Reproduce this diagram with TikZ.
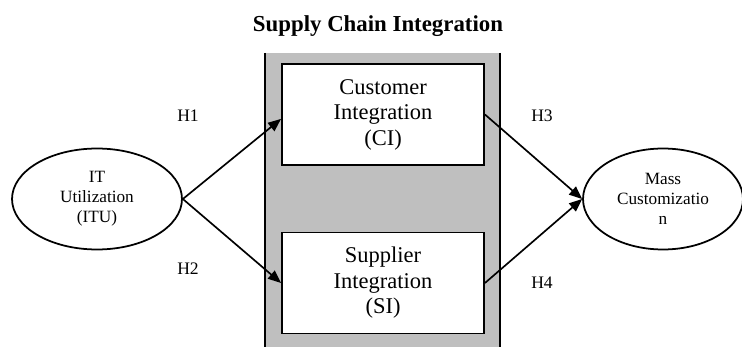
\documentclass[tikz,border=0pt]{standalone}
\usepackage{fontspec}
\setmainfont{Liberation Serif}
\usetikzlibrary{shapes.geometric,arrows.meta}
\begin{document}
\begin{tikzpicture}[x=0.02cm,y=-0.02cm,
    construct/.style ={ellipse,draw,line width=1pt,minimum height=2.02cm,align=center,font=\fontsize{9.8}{11.4}\selectfont},
    block/.style ={rectangle,draw,line width=1.1pt,fill=white,minimum width=4.04cm,minimum height=2.02cm,align=center,font=\fontsize{12.8}{14.5}\selectfont},
    hyp/.style ={font=\fontsize{10}{12}\selectfont},
    link/.style ={line width=0.95pt,-{Triangle[length=0.26cm,width=0.21cm]}}]
  \useasboundingbox (0,0) rectangle (742,347);
  % shaded panel behind the two integration boxes
  \fill[gray!50] (265,53) rectangle (500,347);
  \draw[line width=1.1pt] (265,53) -- (265,347) (500,53) -- (500,347);
  \node[anchor=base,font=\bfseries\fontsize{13}{15}\selectfont] (title) at (378,32) {Supply Chain Integration};
  \node[construct,minimum width=3.4cm] (itu) at (97,199) {IT\\Utilization\\(ITU)};
  \node[construct,minimum width=3.2cm] (mc) at (663,199) {Mass\\Customizatio\\n};
  \node[block] (ci) at (383,114.5) {Customer\\Integration\\(CI)};
  \node[block] (si) at (383,283) {Supplier\\Integration\\(SI)};
  \node[hyp] (h1) at (188,116) {H1};
  \node[hyp] (h2) at (188,269) {H2};
  \node[hyp] (h3) at (542,116) {H3};
  \node[hyp] (h4) at (542,283) {H4};
  \draw[link] (itu.east) -- ([yshift=-2.5]ci.west);
  \draw[link] (itu.east) -- (si.west);
  \draw[link] (ci.east) -- (mc.west);
  \draw[link] (si.east) -- (mc.west);
\end{tikzpicture}
\end{document}
